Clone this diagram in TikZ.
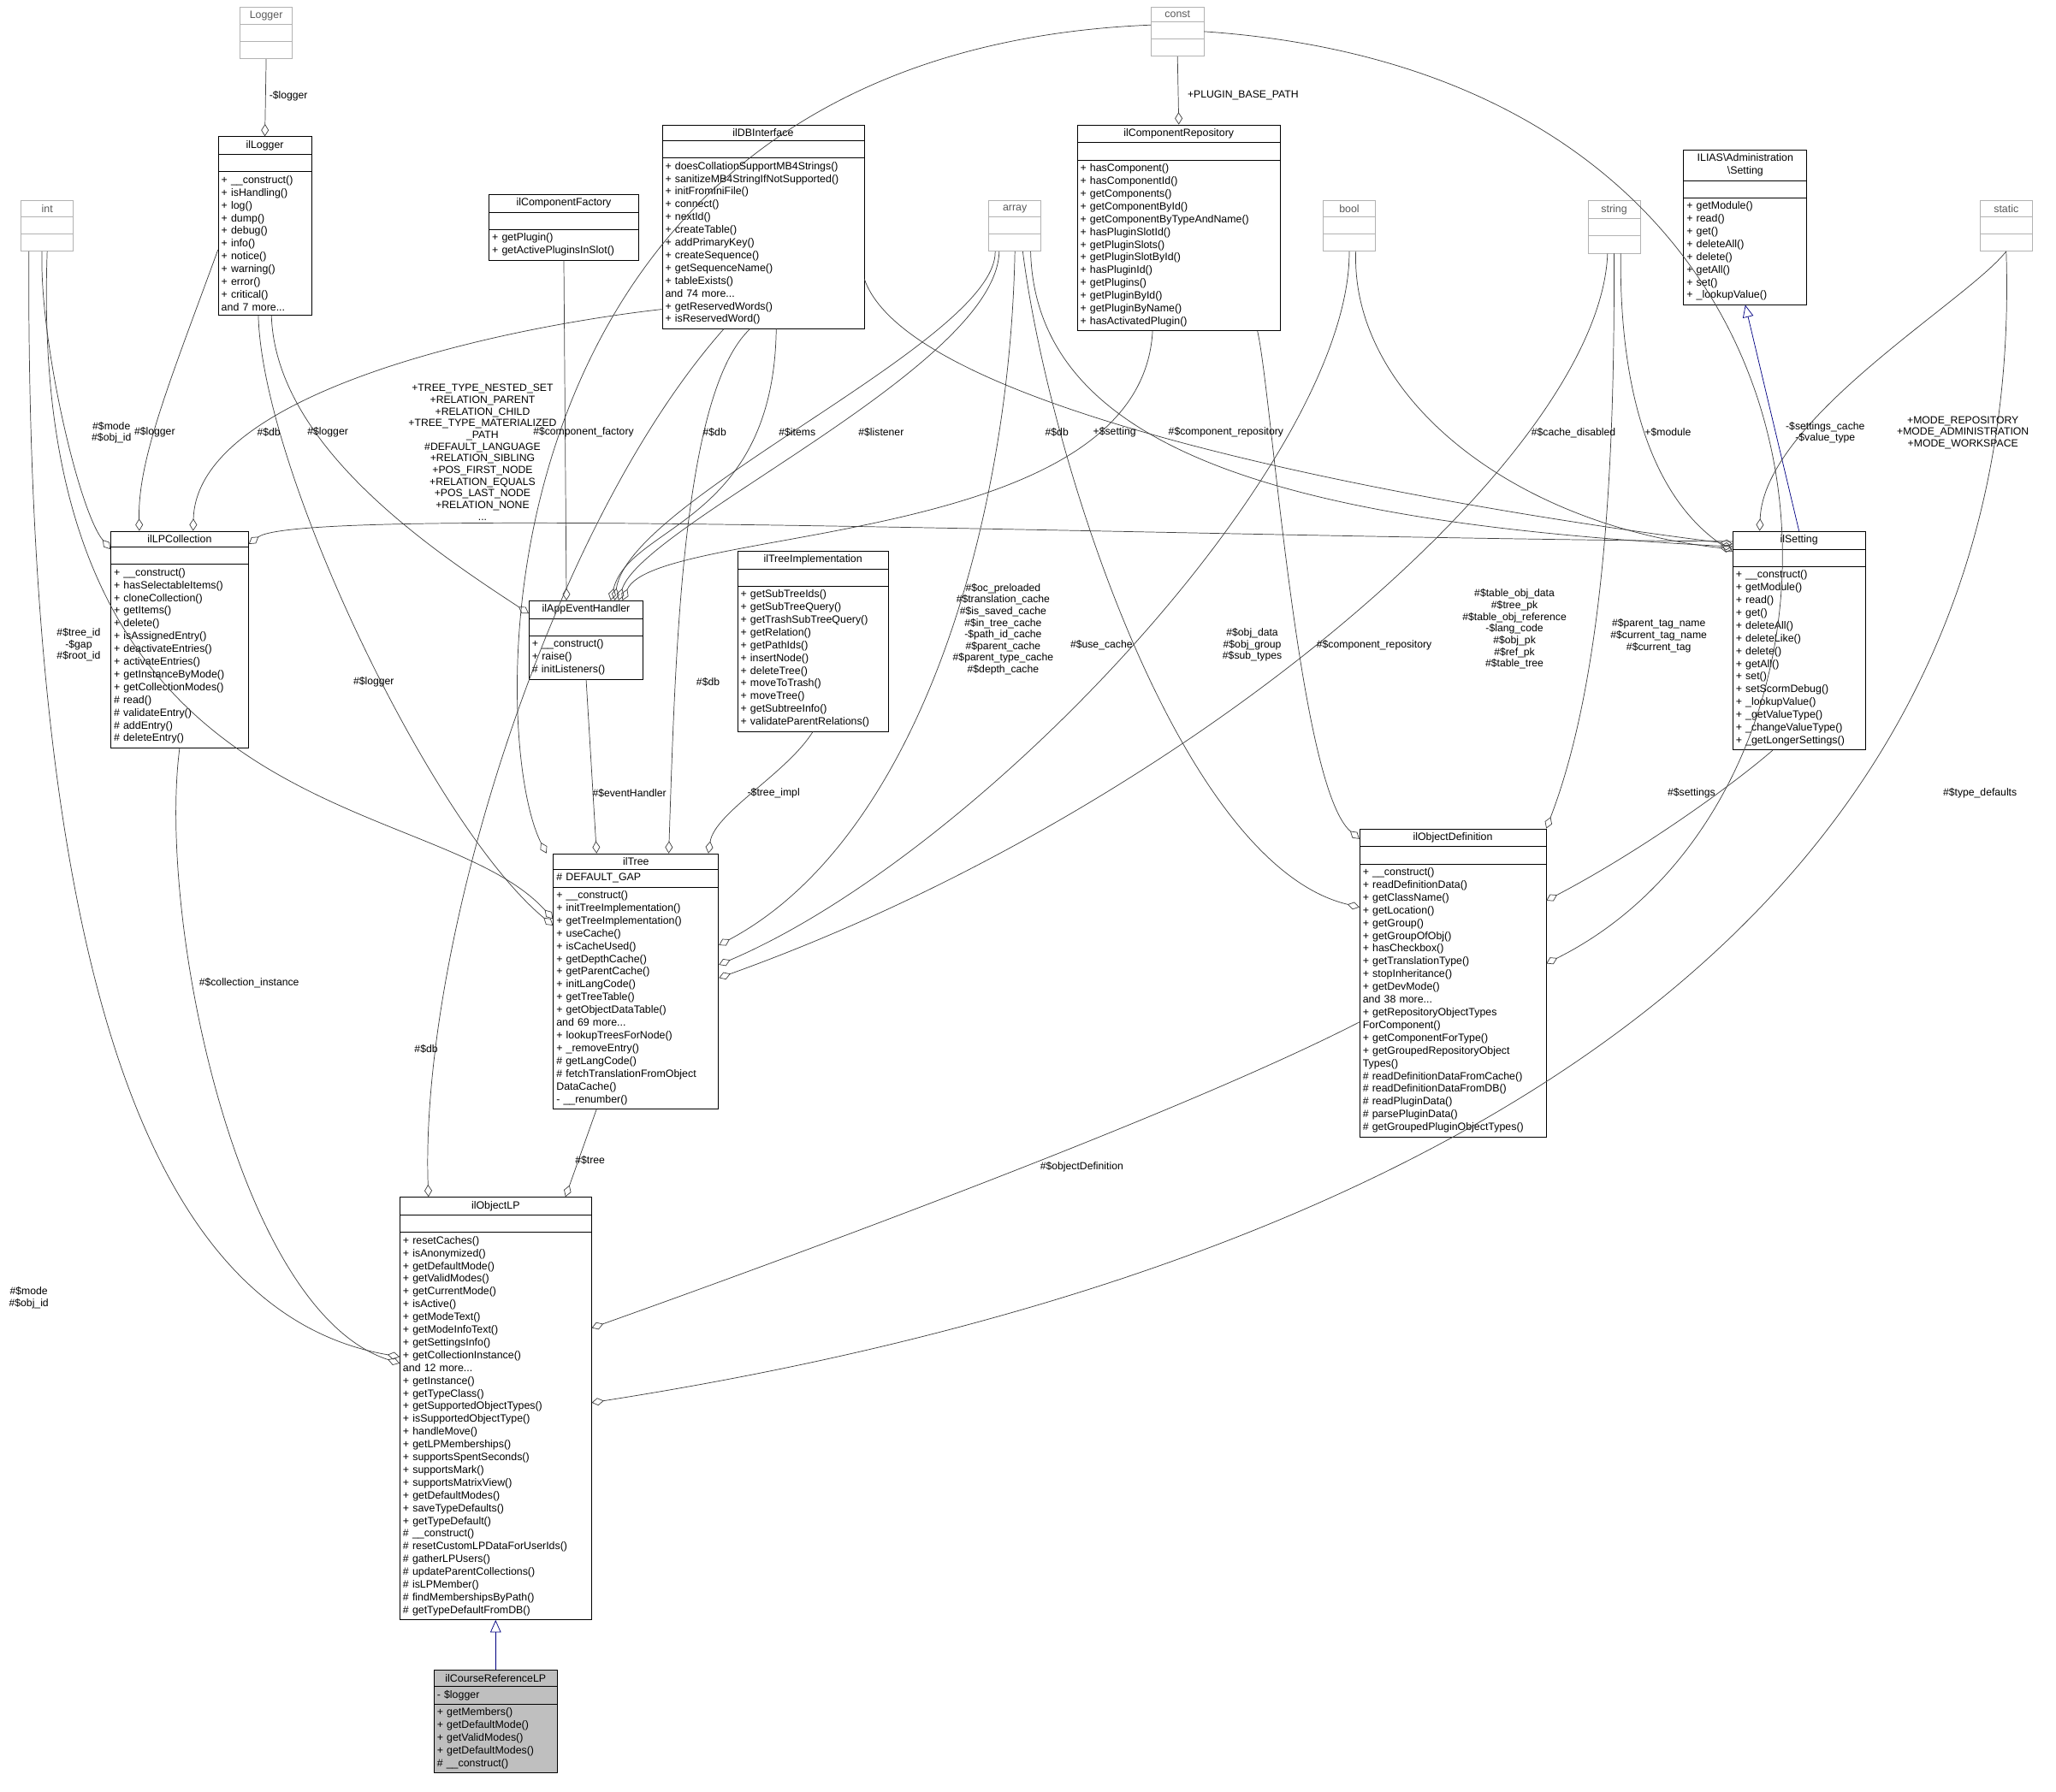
\documentclass[tikz,border=0pt]{standalone}
\usepackage{fontspec}
\setmainfont{Liberation Sans}
\usetikzlibrary{shapes.multipart,arrows.meta,calc}

\newcommand{\emp}{\rule{0pt}{6pt}}
\newcommand{\ttl}[1]{\hfil #1\hfil}
\tikzset{
  cls/.style={rectangle split, rectangle split parts=3, draw, anchor=north,
    font=\fontsize{6.9}{8.3}\selectfont, inner xsep=0.07cm, inner ysep=2.4pt,
    align=left},
  ext/.style={cls, draw=gray!60, text=gray!70!black, text width=1.06cm},
  lbl/.style={font=\fontsize{6.8}{7.6}\selectfont, align=center, inner sep=0pt},
  agg/.style={draw=black!75, {Diamond[open,length=8pt,width=5pt]}-},
  inh/.style={draw=blue!50!black, -{Triangle[open,length=8pt,width=7pt]}}
}

\begin{document}
\begin{tikzpicture}[x=0.03cm,y=-0.03cm]
    \useasboundingbox (0,0) rectangle (1568,1367);

    % external types
    \node[ext] (Logger) at (203,5) {\ttl{Logger} \nodepart{two}\emp \nodepart{three}\emp};
    \node[ext] (int) at (36,153) {\ttl{int} \nodepart{two}\emp \nodepart{three}\emp};
    \node[ext] (const) at (898,5) {\ttl{const} \nodepart{two}\emp \nodepart{three}\emp};
    \node[ext] (array) at (774,153) {\ttl{array} \nodepart{two}\emp \nodepart{three}\emp};
    \node[ext] (bool) at (1029,153) {\ttl{bool} \nodepart{two}\emp \nodepart{three}\emp};
    \node[ext] (string) at (1231,153) {\ttl{string} \nodepart{two}\emp \nodepart{three}\emp};
    \node[ext] (static) at (1530,153) {\ttl{static} \nodepart{two}\emp \nodepart{three}\emp};

    % classes
    \node[cls, text width=1.99cm] (ilLogger) at (202,104) {\ttl{ilLogger} \nodepart{two}\emp
        \nodepart{three}+ \_\_construct()\\+ isHandling()\\+ log()\\+ dump()\\+ debug()\\+ info()\\+ notice()\\+ warning()\\+ error()\\+ critical()\\and 7 more...};
    \node[cls, text width=4.48cm] (ilDBInterface) at (582,95) {\ttl{ilDBInterface} \nodepart{two}\emp
        \nodepart{three}+ doesCollationSupportMB4Strings()\\+ sanitizeMB4StringIfNotSupported()\\+ initFromIniFile()\\+ connect()\\+ nextId()\\+ createTable()\\+ addPrimaryKey()\\+ createSequence()\\+ getSequenceName()\\+ tableExists()\\and 74 more...\\+ getReservedWords()\\+ isReservedWord()};
    \node[cls, text width=3.28cm] (ilComponentFactory) at (430,148) {\ttl{ilComponentFactory} \nodepart{two}\emp
        \nodepart{three}+ getPlugin()\\+ getActivePluginsInSlot()};
    \node[cls, text width=4.51cm] (ilComponentRepository) at (899,95) {\ttl{ilComponentRepository} \nodepart{two}\emp
        \nodepart{three}+ hasComponent()\\+ hasComponentId()\\+ getComponents()\\+ getComponentById()\\+ getComponentByTypeAndName()\\+ hasPluginSlotId()\\+ getPluginSlots()\\+ getPluginSlotById()\\+ hasPluginId()\\+ getPlugins()\\+ getPluginById()\\+ getPluginByName()\\+ hasActivatedPlugin()};
    \node[cls, text width=2.68cm] (Setting) at (1331,114) {\ttl{ILIAS\textbackslash Administration}\\\ttl{\textbackslash Setting} \nodepart{two}\emp
        \nodepart{three}+ getModule()\\+ read()\\+ get()\\+ deleteAll()\\+ delete()\\+ getAll()\\+ set()\\+ \_lookupValue()};
    \node[cls, text width=3.01cm] (ilLPCollection) at (137,405) {\ttl{ilLPCollection} \nodepart{two}\emp
        \nodepart{three}+ \_\_construct()\\+ hasSelectableItems()\\+ cloneCollection()\\+ getItems()\\+ delete()\\+ isAssignedEntry()\\+ deactivateEntries()\\+ activateEntries()\\+ getInstanceByMode()\\+ getCollectionModes()\\\# read()\\\# validateEntry()\\\# addEntry()\\\# deleteEntry()};
    \node[cls, text width=2.47cm] (ilAppEventHandler) at (447,458) {\ttl{ilAppEventHandler} \nodepart{two}\emp
        \nodepart{three}+ \_\_construct()\\+ raise()\\\# initListeners()};
    \node[cls, text width=3.31cm] (ilTreeImplementation) at (620,420) {\ttl{ilTreeImplementation} \nodepart{two}\emp
        \nodepart{three}+ getSubTreeIds()\\+ getSubTreeQuery()\\+ getTrashSubTreeQuery()\\+ getRelation()\\+ getPathIds()\\+ insertNode()\\+ deleteTree()\\+ moveToTrash()\\+ moveTree()\\+ getSubtreeInfo()\\+ validateParentRelations()};
    \node[cls, text width=2.89cm] (ilSetting) at (1372,405) {\ttl{ilSetting} \nodepart{two}\emp
        \nodepart{three}+ \_\_construct()\\+ getModule()\\+ read()\\+ get()\\+ deleteAll()\\+ deleteLike()\\+ delete()\\+ getAll()\\+ set()\\+ setScormDebug()\\+ \_lookupValue()\\+ \_getValueType()\\+ \_changeValueType()\\+ \_getLongerSettings()};
    \node[cls, text width=3.64cm] (ilTree) at (485,651) {\ttl{ilTree} \nodepart{two}\# DEFAULT\_GAP
        \nodepart{three}+ \_\_construct()\\+ initTreeImplementation()\\+ getTreeImplementation()\\+ useCache()\\+ isCacheUsed()\\+ getDepthCache()\\+ getParentCache()\\+ initLangCode()\\+ getTreeTable()\\+ getObjectDataTable()\\and 69 more...\\+ lookupTreesForNode()\\+ \_removeEntry()\\\# getLangCode()\\\# fetchTranslationFromObject\\DataCache()\\- \_\_renumber()};
    \node[cls, text width=4.12cm] (ilObjectDefinition) at (1108,632) {\ttl{ilObjectDefinition} \nodepart{two}\emp
        \nodepart{three}+ \_\_construct()\\+ readDefinitionData()\\+ getClassName()\\+ getLocation()\\+ getGroup()\\+ getGroupOfObj()\\+ hasCheckbox()\\+ getTranslationType()\\+ stopInheritance()\\+ getDevMode()\\and 38 more...\\+ getRepositoryObjectTypes\\ForComponent()\\+ getComponentForType()\\+ getGroupedRepositoryObject\\Types()\\\# readDefinitionDataFromCache()\\\# readDefinitionDataFromDB()\\\# readPluginData()\\\# parsePluginData()\\\# getGroupedPluginObjectTypes()};
    \node[cls, text width=4.24cm] (ilObjectLP) at (378,913) {\ttl{ilObjectLP} \nodepart{two}\emp
        \nodepart{three}+ resetCaches()\\+ isAnonymized()\\+ getDefaultMode()\\+ getValidModes()\\+ getCurrentMode()\\+ isActive()\\+ getModeText()\\+ getModeInfoText()\\+ getSettingsInfo()\\+ getCollectionInstance()\\and 12 more...\\+ getInstance()\\+ getTypeClass()\\+ getSupportedObjectTypes()\\+ isSupportedObjectType()\\+ handleMove()\\+ getLPMemberships()\\+ supportsSpentSeconds()\\+ supportsMark()\\+ supportsMatrixView()\\+ getDefaultModes()\\+ saveTypeDefaults()\\+ getTypeDefault()\\\# \_\_construct()\\\# resetCustomLPDataForUserIds()\\\# gatherLPUsers()\\\# updateParentCollections()\\\# isLPMember()\\\# findMembershipsByPath()\\\# getTypeDefaultFromDB()};
    \node[cls, text width=2.68cm, fill=gray!50] (ilCourseReferenceLP) at (378,1274) {\ttl{ilCourseReferenceLP} \nodepart{two}- \$logger
        \nodepart{three}+ getMembers()\\+ getDefaultMode()\\+ getValidModes()\\+ getDefaultModes()\\\# \_\_construct()};

    % inheritance
    \draw[inh] (ilSetting.north) -- (Setting.south);
    \draw[inh] (ilCourseReferenceLP.north) -- (ilObjectLP.south);

    % members
    \draw[agg] (ilLogger.north) -- (Logger.south);
    \draw[agg] (ilComponentRepository.north) -- (const.south);
    \draw[agg] ($(ilLPCollection.north west)+(0,14)$) .. controls (60,390) and (30,260) .. ($(int.south)+(-4,0)$);
    \draw[agg] ($(ilLPCollection.north west)+(22,0)$) .. controls (105,350) and (130,290) .. ($(ilLogger.south west)+(0,-50)$);
    \draw[agg] ($(ilLPCollection.north west)+(63,0)$) .. controls (150,300) and (380,250) .. ($(ilDBInterface.south west)+(0,-15)$);
    \draw[agg] ($(ilLPCollection.north east)+(0,10)$) .. controls (230,385) and (900,410) .. ($(ilSetting.north west)+(0,8)$);
    \draw[agg] ($(ilAppEventHandler.north west)+(0,10)$) .. controls (330,420) and (210,340) .. ($(ilLogger.south)+(5,0)$);
    \draw[agg] ($(ilTree.north west)+(0,55)$) .. controls (330,630) and (200,360) .. ($(ilLogger.south)+(-5,0)$);
    \draw[agg] ($(ilTree.north west)+(0,50)$) .. controls (330,600) and (20,640) .. (int.south);
    \draw[agg] ($(ilObjectLP.north west)+(0,122)$) .. controls (100,1000) and (20,700) .. ($(int.south)+(-14,0)$);
    \draw[agg] ($(ilObjectLP.north west)+(0,127)$) .. controls (180,1000) and (120,700) .. (ilLPCollection.south);
    \draw[agg] ($(ilTree.north west)+(-5,0)$) .. controls (370,560) and (360,40) .. ($(const.west)+(0,-5)$);
    \draw[agg] ($(ilAppEventHandler.north)+(-15,0)$) -- (ilComponentFactory.south);
    \draw[agg] ($(ilAppEventHandler.north east)+(-25,0)$) .. controls (480,400) and (590,400) .. ($(ilDBInterface.south)+(10,0)$);
    \draw[agg] ($(ilAppEventHandler.north east)+(-22,0)$) .. controls (480,380) and (760,260) .. ($(array.south)+(-15,0)$);
    \draw[agg] ($(ilAppEventHandler.north east)+(-19,0)$) .. controls (490,400) and (760,280) .. ($(array.south)+(-12,0)$);
    \draw[agg] ($(ilAppEventHandler.north east)+(-16,0)$) .. controls (500,400) and (870,420) .. ($(ilComponentRepository.south)+(-20,0)$);
    \draw[agg] ($(ilTree.north)+(25,0)$) .. controls (515,500) and (520,300) .. ($(ilDBInterface.south)+(-10,0)$);
    \draw[agg] ($(ilObjectLP.north west)+(22,0)$) .. controls (320,720) and (420,400) .. ($(ilDBInterface.south)+(-30,0)$);
    \draw[agg] ($(ilSetting.north west)+(0,10)$) .. controls (1200,400) and (700,330) .. ($(ilDBInterface.east)+(0,40)$);
    \draw[agg] ($(ilTree.north east)+(0,70)$) .. controls (700,640) and (770,400) .. (array.south);
    \draw[agg] ($(ilSetting.north west)+(0,12)$) .. controls (1000,400) and (790,350) .. ($(array.south)+(12,0)$);
    \draw[agg] ($(ilObjectDefinition.north west)+(0,60)$) .. controls (900,660) and (800,350) .. ($(array.south)+(6,0)$);
    \draw[agg] ($(ilObjectDefinition.north west)+(0,8)$) .. controls (990,600) and (970,300) .. ($(ilComponentRepository.south)+(60,0)$);
    \draw[agg] ($(ilTree.north east)+(0,85)$) .. controls (750,650) and (1030,350) .. (bool.south);
    \draw[agg] ($(ilSetting.north west)+(0,14)$) .. controls (1150,400) and (1030,300) .. ($(bool.south)+(5,0)$);
    \draw[agg] ($(ilTree.north east)+(0,95)$) .. controls (900,620) and (1220,350) .. ($(string.south)+(-5,0)$);
    \draw[agg] (ilObjectDefinition.north east) .. controls (1230,500) and (1231,300) .. (string.south);
    \draw[agg] ($(ilSetting.north west)+(0,16)$) .. controls (1260,380) and (1235,300) .. ($(string.south)+(5,0)$);
    \draw[agg] ($(ilSetting.north)+(-30,0)$) .. controls (1345,320) and (1500,230) .. (static.south);
    \draw[agg] ($(ilObjectDefinition.north east)+(0,103)$) .. controls (1450,600) and (1450,60) .. (const.east);
    \draw[agg] ($(ilObjectDefinition.north east)+(0,55)$) .. controls (1250,650) and (1320,600) .. ($(ilSetting.south)+(-20,0)$);
    \draw[agg] ($(ilTree.north)+(-30,0)$) -- (ilAppEventHandler.south);
    \draw[agg] ($(ilTree.north east)+(-8,0)$) .. controls (545,620) and (600,590) .. (ilTreeImplementation.south);
    \draw[agg] ($(ilObjectLP.north east)+(-20,0)$) -- ($(ilTree.south)+(-30,0)$);
    \draw[agg] ($(ilObjectLP.north east)+(0,100)$) .. controls (600,960) and (900,850) .. ($(ilObjectDefinition.west)+(0,30)$);
    \draw[agg] ($(ilObjectLP.north east)+(0,157)$) .. controls (900,1000) and (1550,800) .. (static.south);

    % labels
    \node[lbl] (lLogger) at (220,73) {-\$logger};
    \node[lbl] (lBase) at (948,73) {+PLUGIN\_BASE\_PATH};
    \node[lbl] (lModeA) at (85,330) {\#\$mode\\\#\$obj\_id};
    \node[lbl] (lLogA) at (118,330) {\#\$logger};
    \node[lbl] (lDbA) at (205,330) {\#\$db};
    \node[lbl] (lLogB) at (250,330) {\#\$logger};
    \node[lbl] (lConst) at (368,345) {+TREE\_TYPE\_NESTED\_SET\\+RELATION\_PARENT\\+RELATION\_CHILD\\+TREE\_TYPE\_MATERIALIZED\\\_PATH\\\#DEFAULT\_LANGUAGE\\+RELATION\_SIBLING\\+POS\_FIRST\_NODE\\+RELATION\_EQUALS\\+POS\_LAST\_NODE\\+RELATION\_NONE\\...};
    \node[lbl] (lFactory) at (445,330) {\#\$component\_factory};
    \node[lbl] (lDbB) at (545,330) {\#\$db};
    \node[lbl] (lItems) at (608,330) {\#\$items};
    \node[lbl] (lListener) at (672,330) {\#\$listener};
    \node[lbl] (lDbC) at (806,330) {\#\$db};
    \node[lbl] (lSetting) at (850,330) {+\$setting};
    \node[lbl] (lRepoA) at (935,330) {\#\$component\_repository};
    \node[lbl] (lCache) at (1200,330) {\#\$cache\_disabled};
    \node[lbl] (lModule) at (1272,330) {+\$module};
    \node[lbl] (lStatic) at (1392,330) {-\$settings\_cache\\-\$value\_type};
    \node[lbl] (lModes) at (1497,330) {+MODE\_REPOSITORY\\+MODE\_ADMINISTRATION\\+MODE\_WORKSPACE};
    \node[lbl] (lTreeId) at (60,492) {\#\$tree\_id\\-\$gap\\\#\$root\_id};
    \node[lbl] (lLogC) at (285,520) {\#\$logger};
    \node[lbl] (lDbD) at (540,520) {\#\$db};
    \node[lbl] (lArrTree) at (765,480) {\#\$oc\_preloaded\\\#\$translation\_cache\\\#\$is\_saved\_cache\\\#\$in\_tree\_cache\\-\$path\_id\_cache\\\#\$parent\_cache\\\#\$parent\_type\_cache\\\#\$depth\_cache};
    \node[lbl] (lUseCache) at (840,492) {\#\$use\_cache};
    \node[lbl] (lObjData) at (955,492) {\#\$obj\_data\\\#\$obj\_group\\\#\$sub\_types};
    \node[lbl] (lRepoB) at (1048,492) {\#\$component\_repository};
    \node[lbl] (lTable) at (1155,480) {\#\$table\_obj\_data\\\#\$tree\_pk\\\#\$table\_obj\_reference\\-\$lang\_code\\\#\$obj\_pk\\\#\$ref\_pk\\\#\$table\_tree};
    \node[lbl] (lTag) at (1265,485) {\#\$parent\_tag\_name\\\#\$current\_tag\_name\\\#\$current\_tag};
    \node[lbl] (lEvent) at (480,605) {\#\$eventHandler};
    \node[lbl] (lImpl) at (590,605) {-\$tree\_impl};
    \node[lbl] (lSettings) at (1290,605) {\#\$settings};
    \node[lbl] (lDefaults) at (1510,605) {\#\$type\_defaults};
    \node[lbl] (lCollection) at (190,750) {\#\$collection\_instance};
    \node[lbl] (lDbE) at (325,800) {\#\$db};
    \node[lbl] (lModeB) at (22,990) {\#\$mode\\\#\$obj\_id};
    \node[lbl] (lTree) at (450,885) {\#\$tree};
    \node[lbl] (lObjDef) at (825,890) {\#\$objectDefinition};
\end{tikzpicture}
\end{document}
